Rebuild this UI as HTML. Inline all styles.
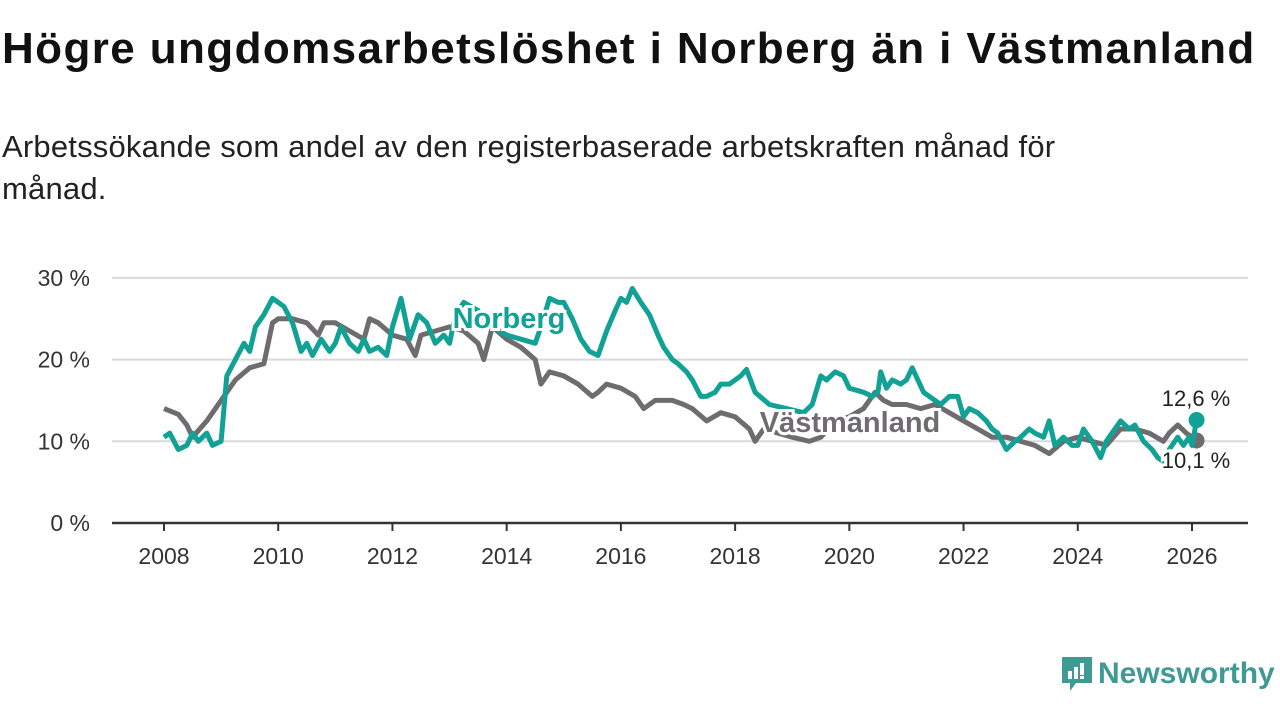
<!DOCTYPE html>
<html><head><meta charset="utf-8">
<style>
body{margin:0;width:1280px;height:720px;background:#fff;font-family:"Liberation Sans","DejaVu Sans",sans-serif;overflow:hidden;position:relative}
h1{position:absolute;left:2px;top:24px;margin:0;font-size:44px;font-weight:bold;color:#111;letter-spacing:1.4px;white-space:nowrap}
.sub{position:absolute;left:2px;top:126px;margin:0;font-size:31px;line-height:42px;color:#222;width:1150px;letter-spacing:0.2px}
svg{position:absolute;left:0;top:0}
</style></head>
<body>
<h1>Högre ungdomsarbetslöshet i Norberg än i Västmanland</h1>
<p class="sub">Arbetssökande som andel av den registerbaserade arbetskraften månad för månad.</p>
<svg id="chart" width="1280" height="720"></svg>
<div style="position:absolute;left:1060px;top:654px;height:40px;display:flex;align-items:center">
<svg width="34" height="38" style="position:static"><path d="M2 2h30v26H16l-6 8v-8H2z" fill="#3e9a92"/><rect x="8" y="16" width="4" height="8" fill="#fff"/><rect x="14" y="12" width="4" height="12" fill="#fff"/><rect x="20" y="8" width="4" height="12" fill="#fff"/><rect x="20" y="21" width="4" height="3" fill="#fff"/></svg>
<span style="font-size:30px;color:#3e9a92;margin-left:4px;font-weight:bold">Newsworthy</span>
</div>
<script>
const yTicks=[0,10,20,30];
const xTicks=[2008,2010,2012,2014,2016,2018,2020,2022,2024,2026];
const norbergT=[2008.0,2008.1,2008.25,2008.4,2008.5,2008.6,2008.75,2008.85,2009.0,2009.1,2009.25,2009.4,2009.5,2009.6,2009.75,2009.9,2010.0,2010.1,2010.25,2010.4,2010.5,2010.6,2010.75,2010.9,2011.0,2011.1,2011.25,2011.4,2011.5,2011.6,2011.75,2011.9,2012.0,2012.15,2012.3,2012.45,2012.6,2012.75,2012.9,2013.0,2013.1,2013.25,2013.5,2013.75,2014.0,2014.25,2014.5,2014.6,2014.75,2014.9,2015.0,2015.15,2015.3,2015.45,2015.6,2015.75,2015.9,2016.0,2016.1,2016.2,2016.35,2016.5,2016.65,2016.75,2016.9,2017.0,2017.15,2017.25,2017.4,2017.5,2017.65,2017.75,2017.9,2018.0,2018.1,2018.2,2018.35,2018.6,2018.9,2019.2,2019.35,2019.5,2019.6,2019.75,2019.9,2020.0,2020.25,2020.4,2020.5,2020.55,2020.65,2020.75,2020.9,2021.0,2021.1,2021.3,2021.5,2021.6,2021.75,2021.9,2022.0,2022.1,2022.25,2022.4,2022.5,2022.6,2022.75,2022.9,2023.0,2023.15,2023.25,2023.4,2023.5,2023.6,2023.75,2023.9,2024.0,2024.1,2024.25,2024.4,2024.5,2024.6,2024.75,2024.9,2025.0,2025.15,2025.3,2025.4,2025.5,2025.6,2025.75,2025.85,2025.95,2026.0,2026.08];
const norbergV=[10.5,11,9,9.5,11,10,11,9.5,10,18,20,22,21,24,25.5,27.5,27,26.5,24.5,21,22,20.5,22.5,21,22,24,22,21,22.5,21,21.5,20.5,24,27.5,22.5,25.5,24.5,22,23,22,25.5,27,26,24,23,22.5,22,24,27.5,27,27,25,22.5,21,20.5,23.5,26,27.5,27,28.7,27,25.5,23,21.5,20,19.5,18.5,17.5,15.5,15.5,16,17,17,17.5,18,18.8,16,14.5,14,13.5,14.5,18,17.5,18.5,18,16.5,16,15.5,16,18.5,16.5,17.5,17,17.5,19,16,15,14.5,15.5,15.5,13,14,13.5,12.5,11.5,11,9,10,10.5,11.5,11,10.5,12.5,9.5,10.5,9.5,9.5,11.5,10,8,10,11,12.5,11.5,12,10,9,8,7.5,9,10.5,9.5,10.5,9.5,12.6];
const vastT=[2008.0,2008.25,2008.4,2008.5,2008.75,2009.0,2009.25,2009.5,2009.75,2009.9,2010.0,2010.25,2010.5,2010.7,2010.8,2011.0,2011.25,2011.5,2011.6,2011.75,2012.0,2012.25,2012.4,2012.5,2012.75,2013.0,2013.25,2013.5,2013.6,2013.75,2014.0,2014.25,2014.5,2014.6,2014.75,2015.0,2015.25,2015.5,2015.6,2015.75,2016.0,2016.25,2016.4,2016.6,2016.9,2017.1,2017.25,2017.5,2017.75,2018.0,2018.25,2018.35,2018.5,2018.75,2019.0,2019.3,2019.5,2019.75,2020.0,2020.25,2020.45,2020.6,2020.75,2021.0,2021.25,2021.5,2021.75,2022.0,2022.25,2022.5,2022.75,2023.0,2023.25,2023.5,2023.75,2024.0,2024.25,2024.5,2024.75,2025.0,2025.25,2025.5,2025.6,2025.75,2025.9,2026.0,2026.08];
const vastV=[14,13.3,12,10.5,12.5,15,17.5,19,19.5,24.5,25,25,24.5,23,24.5,24.5,23.5,22.5,25,24.5,23,22.5,20.5,23,23.5,24,23.5,22,20,24,22.5,21.5,20,17,18.5,18,17,15.5,16,17,16.5,15.5,14,15,15,14.5,14,12.5,13.5,13,11.5,10,11.5,11,10.5,10,10.5,12.5,13,14,16,15,14.5,14.5,14,14.5,13.5,12.5,11.5,10.5,10.5,10,9.5,8.5,10,10.5,10,9.5,11.5,11.5,11,10,11,12,11,10.5,10.1];
const NS="http://www.w3.org/2000/svg";
const svg=document.getElementById('chart');
const X=t=>164+(t-2008)*(1192-164)/18;
const Y=v=>523-v*8.17;
function mk(tag,attrs,parent){const e=document.createElementNS(NS,tag);for(const k in attrs)e.setAttribute(k,attrs[k]);(parent||svg).appendChild(e);return e;}
yTicks.forEach(v=>{
  if(v>0){const l=mk('line',{x1:112,x2:1248,y1:Y(v),y2:Y(v),stroke:'#d9d9d9','stroke-width':2});
  
  }
  const t=mk('text',{x:90,y:Y(v)+8,'text-anchor':'end','font-size':23,fill:'#333','font-family':'Liberation Sans, sans-serif'});
  t.textContent=v+' %';
  
  
});
const ax=mk('line',{x1:112,x2:1248,y1:Y(0),y2:Y(0),stroke:'#333','stroke-width':2.5});


xTicks.forEach(yr=>{
  const tk=mk('line',{x1:X(yr),x2:X(yr),y1:Y(0),y2:Y(0)+8,stroke:'#333','stroke-width':2});
  
  
  const t=mk('text',{x:X(yr),y:564,'text-anchor':'middle','font-size':23,fill:'#333','font-family':'Liberation Sans, sans-serif'});
  t.textContent=yr;
  
  
});
function line(T,V,color,isNorberg){
  const d=T.map((t,i)=>(i?'L':'M')+X(t).toFixed(1)+' '+Y(V[i]).toFixed(1)).join(' ');
  const p=mk('path',{d:d,fill:'none',stroke:color,'stroke-width':5,'stroke-linejoin':'round'});
  const c=mk('circle',{cx:X(T[T.length-1]),cy:Y(V[V.length-1]),r:8,fill:color});
  if(isNorberg){
    
    
  }else{
    
    
  }
  
  
}
line(vastT,vastV,'#6f6c70',false);
line(norbergT,norbergV,'#11a195',true);
function lbl(x,y,txt,color,name,size,anchor,bold){
  const t=mk('text',{x:x,y:y,'text-anchor':anchor,'font-size':size,'font-weight':bold?'bold':'normal',fill:color,stroke:'#fff','stroke-width':6,'paint-order':'stroke','font-family':'Liberation Sans, sans-serif'});
  t.textContent=txt;
  
  
}
lbl(509,328,'Norberg','#11a195','norberg-label',29,'middle',true);
lbl(850,432,'Västmanland','#6f6c70','vastmanland-label',29,'middle',true);
lbl(1196,406,'12,6 %','#222','norberg-end-value',22,'middle',false);
lbl(1196,468,'10,1 %','#222','vastmanland-end-value',22,'middle',false);
</script>
</body></html>
